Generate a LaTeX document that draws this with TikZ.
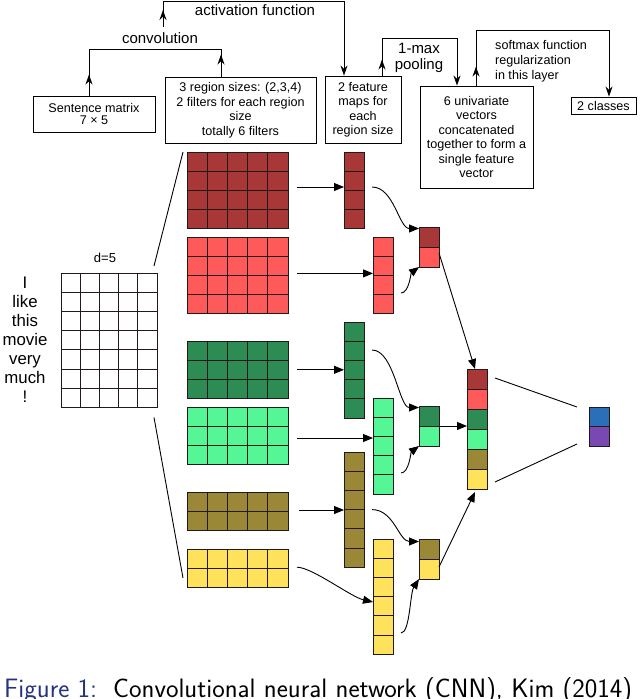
\documentclass[tikz,border=0pt]{standalone}
\usepackage{fontspec}
\setmainfont{Liberation Sans}
\usetikzlibrary{arrows.meta,decorations.markings,calc}
\definecolor{cDR}{RGB}{168,56,56}
\definecolor{cLR}{RGB}{255,90,90}
\definecolor{cDG}{RGB}{44,140,84}
\definecolor{cLG}{RGB}{84,246,150}
\definecolor{cOL}{RGB}{155,136,54}
\definecolor{cYE}{RGB}{255,226,92}
\definecolor{cBL}{RGB}{42,112,184}
\definecolor{cPU}{RGB}{122,72,178}
\definecolor{gridc}{RGB}{35,25,25}
\definecolor{capblue}{RGB}{35,52,125}
\tikzset{
  gl/.style={draw=gridc, line width=1pt},
  gridnode/.style={anchor=north west, inner sep=0pt, outer sep=0pt},
  tbox/.style={draw, line width=0.9pt, inner sep=0pt, align=center, font=\fontsize{12.6}{14.5}\selectfont},
  lbl/.style={inner sep=0pt, font=\fontsize{15}{16}\selectfont},
  flow/.style={line width=0.9pt},
  uptip/.style={decoration={markings, mark=at position #1 with {\arrow{Stealth[length=10pt,width=7pt]}}}, postaction={decorate}},
  conn/.style={line width=0.9pt, -{Triangle[length=10pt,width=8pt]}},
  plain/.style={line width=0.9pt}
}
\newcommand{\cellgrid}[8]{%
  \node[gridnode, minimum width={#4*#6}, minimum height={#5*#7}] (#1) at (#2,#3) {};
  \filldraw[fill=#8, gl] (#1.north west) rectangle (#1.south east);
  \foreach \i in {1,...,#4} \draw[gl] ([xshift={\i*#6}]#1.north west) -- ([xshift={\i*#6}]#1.south west);
  \foreach \j in {1,...,#5} \draw[gl] ([yshift={-\j*#7}]#1.north west) -- ([yshift={-\j*#7}]#1.north east);
}
\newcommand{\colvec}[7]{%
  \node[gridnode, minimum width={#4}, minimum height={#6*#5}] (#1) at (#2,#3) {};
  \foreach \vcol [count=\k from 0] in {#7}
    \filldraw[fill=\vcol, gl] ([yshift={-\k*#5}]#1.north west) rectangle ++(#4,#5);
}
\begin{document}
\begin{tikzpicture}[x=1pt,y=-1pt]
\useasboundingbox (0,0) rectangle (640,699);

% top boxes
\node[tbox, minimum width=122, minimum height=36, font=\fontsize{12.6}{12.8}\selectfont] (S) at (94,114) {Sentence matrix\\7 × 5};
\node[tbox, minimum width=151, minimum height=66] (R) at (240.5,110) {3 region sizes: (2,3,4)\\2 filters for each region\\size\\totally 6 filters};
\node[tbox, minimum width=76, minimum height=67] (FMB) at (363,109.5) {2 feature\\maps for\\each\\region size};
\node[tbox, minimum width=113, minimum height=102] (U) at (476.5,137) {6 univariate\\vectors\\concatenated\\together to form a\\single feature\\vector};
\node[tbox, minimum width=65, minimum height=17] (C) at (603.5,105.5) {2 classes};

% labels
\node[lbl, anchor=base] (act) at (255,15) {activation function};
\node[lbl, anchor=base] (conv) at (160,43) {convolution};
\node[lbl, align=center] (pool) at (419,57.5) {1-max\\pooling};
\node[inner sep=0pt, anchor=north west, align=left, font=\fontsize{12.6}{14.75}\selectfont] (soft) at (495,40.5) {softmax function\\regularization\\in this layer};

% helper x positions
\coordinate (x89) at (89,0);
\coordinate (x221) at (221,0);
\coordinate (x344) at (344,0);
\coordinate (x382) at (382,0);
\coordinate (x457) at (457,0);
\coordinate (x476) at (476,0);
\coordinate (x609) at (609,0);
\coordinate (convout) at (163,27);

% flow lines
\draw[flow, decoration={markings,
   mark=at position 21pt with {\arrow{Stealth[length=10pt,width=7pt]}},
   mark=at position -22pt with {\arrowreversed{Stealth[length=10pt,width=7pt]}}}, postaction={decorate}]
  (S.north -| x89) -- (89,49) -- (221,49) -- (R.north -| x221);
\draw[flow, uptip=17pt, -{Stealth[length=10pt,width=7pt]}] (convout) -- (163,1) -- (344,1) -- (FMB.north -| x344);
\draw[flow, uptip=16pt, -{Stealth[length=10pt,width=7pt]}] (FMB.north -| x382) -- (382,38) -- (457,38) -- (U.north -| x457);
\draw[flow, uptip=19pt, -{Stealth[length=10pt,width=7pt]}] (U.north -| x476) -- (476,30) -- (609,30) -- (C.north -| x609);

% sentence
\node[inner sep=0pt, anchor=north, align=center, font=\fontsize{16.8}{19}\selectfont] (words) at (25,277) {I\\like\\this\\movie\\very\\much\\!};
\node[inner sep=0pt, anchor=base, font=\fontsize{13}{14}\selectfont] (d5) at (105,262.7) {d=5};
\cellgrid{SM}{61}{273}{5}{7}{19.2}{19.2}{white}

% filters
\cellgrid{F1}{187}{152}{5}{4}{20.2}{19.2}{cDR}
\cellgrid{F2}{187}{237}{5}{4}{20.2}{19.2}{cLR}
\cellgrid{F3}{187}{341}{5}{3}{20.2}{19.2}{cDG}
\cellgrid{F4}{187}{407}{5}{3}{20.2}{19.2}{cLG}
\cellgrid{F5}{187}{492}{5}{2}{20.2}{19.2}{cOL}
\cellgrid{F6}{187}{549}{5}{2}{20.2}{19.2}{cYE}

% feature maps
\cellgrid{M1}{344}{152}{1}{4}{20}{19.2}{cDR}
\cellgrid{M2}{373}{237}{1}{4}{20}{19.2}{cLR}
\cellgrid{M3}{344}{322}{1}{5}{20}{19.2}{cDG}
\cellgrid{M4}{373}{398}{1}{5}{20}{19.2}{cLG}
\cellgrid{M5}{344}{452}{1}{6}{20}{19.2}{cOL}
\cellgrid{M6}{373}{539}{1}{6}{20}{19.2}{cYE}

% pooled, concatenated, output
\colvec{P1}{419}{227}{20}{20}{2}{cDR,cLR}
\colvec{P2}{419}{406}{20}{20}{2}{cDG,cLG}
\colvec{P3}{419}{539}{20}{20}{2}{cOL,cYE}
\colvec{K}{467}{369}{20}{20}{6}{cDR,cLR,cDG,cLG,cOL,cYE}
\colvec{O}{589}{407}{20}{19.5}{2}{cBL,cPU}

% fan lines
\draw[plain] ([xshift=-3pt,yshift=7pt]SM.north east) -- ([xshift=-4pt]F1.north west);
\draw[plain] ([xshift=-3pt,yshift=-10pt]SM.south east) -- ([xshift=-4pt,yshift=9.4pt]F6.south west);

% filter -> map
\draw[conn] ([xshift=9pt,yshift=3.4pt]F1.east) coordinate (a1) -- (a1 -| M1.west);
\draw[conn] ([xshift=9pt,yshift=2pt]F2.east) coordinate (a2) -- (a2 -| M2.west);
\draw[conn] ([xshift=9pt]F3.east) coordinate (a3) -- (a3 -| M3.west);
\draw[conn] ([xshift=9pt,yshift=-2.2pt]F4.east) coordinate (a4) -- (a4 -| M4.west);
\draw[conn] ([xshift=11pt,yshift=1.2pt]F5.east) coordinate (a5) -- (a5 -| M5.west);
\coordinate (f6s) at ([xshift=9pt,yshift=1pt]F6.east);
\coordinate (m6e) at ([yshift=-5.4pt]M6.west);
\draw[conn] (f6s) .. controls ($(f6s)+(15,0)$) and ($(m6e)+(-22,-5)$) .. (m6e);

% map -> pooled
\coordinate (m1s) at ([xshift=8pt,yshift=3.4pt]M1.east);
\coordinate (p1a) at ([yshift=-1.5pt]P1.north west);
\draw[conn] (m1s) .. controls ($(m1s)+(22,0)$) and ($(p1a)+(-20,0)$) .. (p1a);
\coordinate (m2s) at ([xshift=8pt,yshift=-17.6pt]M2.east);
\draw[conn] (m2s) .. controls ($(m2s)+(8,0)$) and ($(P1.south west)+(-8,6)$) .. (P1.south west);
\coordinate (m3s) at ([xshift=8pt,yshift=20pt]M3.east);
\coordinate (p2a) at ([yshift=-1.5pt]P2.north west);
\draw[conn] (m3s) .. controls ($(m3s)+(22,0)$) and ($(p2a)+(-20,0)$) .. (p2a);
\coordinate (m4s) at ([xshift=8pt,yshift=-27pt]M4.east);
\draw[conn] (m4s) .. controls ($(m4s)+(8,0)$) and ($(P2.south west)+(-8,6)$) .. (P2.south west);
\coordinate (m5s) at ([xshift=8pt]M5.east);
\coordinate (p3a) at ([yshift=-2.5pt]P3.north west);
\draw[conn] (m5s) .. controls ($(m5s)+(22,0)$) and ($(p3a)+(-20,0)$) .. (p3a);
\coordinate (m6s) at ([xshift=8pt,yshift=-36.4pt]M6.east);
\draw[conn] (m6s) .. controls ($(m6s)+(9,0)$) and ($(P3.south west)+(-9,14)$) .. (P3.south west);

% pooled -> concatenated
\draw[conn] ([yshift=-6pt]P1.east) -- ([xshift=-2pt]K.north);
\draw[conn] (P2.east) -- (P2.east -| K.west);
\draw[conn] ([yshift=-8pt]P3.east) -- ([xshift=-2pt,yshift=-3pt]K.south);

% concatenated -> output
\draw[plain] ([xshift=8pt,yshift=-9pt]K.north east) -- ([xshift=-12pt]O.north west);
\draw[plain] ([xshift=8pt,yshift=7pt]K.south east) -- ([xshift=-12pt,yshift=2pt]O.south west);

% caption
\node[anchor=base west, inner sep=0pt] (cap) at (4,697) {\resizebox{628pt}{!}{\fontsize{22}{24}\selectfont\sffamily\textcolor{capblue}{Figure 1:}\hspace{0.6em}Convolutional neural network (CNN), Kim (2014)}};
\end{tikzpicture}
\end{document}
